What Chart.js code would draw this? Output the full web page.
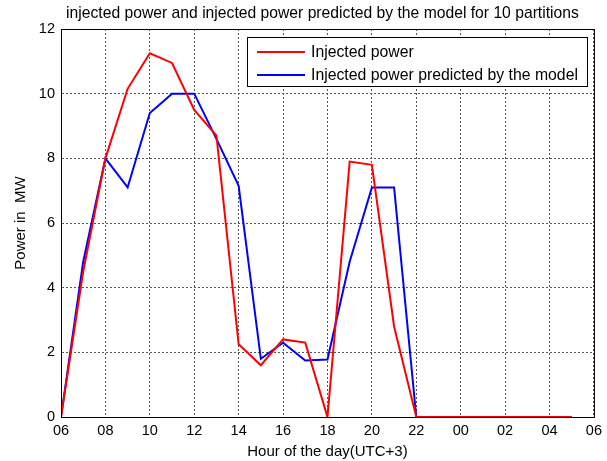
<!DOCTYPE html>
<html>
<head>
<meta charset="utf-8">
<script src="https://cdn.jsdelivr.net/npm/chart.js@4.4.1/dist/chart.umd.min.js"></script>
<style>
    html, body { margin: 0; padding: 0; background: #fff; }
    #wrap { width: 607px; height: 461px; }
</style>
</head>
<body>
<div id="wrap"><canvas id="chart" width="607" height="461"></canvas></div>
<script>
// hours of the day, 6 = 06:00, 24+ = next day
const hours = [6,7,8,9,10,11,12,13,14,15,16,17,18,19,20,21,22,23,24,25,26,27,28,29]
const injected = [0,4.5,8.0,10.15,11.25,10.95,9.5,8.7,2.25,1.6,2.4,2.3,0,7.9,7.8,2.8,0,0,0,0,0,0,0,0]
const predicted = [0,4.8,8.0,7.1,9.4,10.0,10.0,8.6,7.15,1.8,2.3,1.75,1.78,4.8,7.1,7.1,0,0,0,0,0,0,0,0]
const hourTicks = ['06','08','10','12','14','16','18','20','22','00','02','04','06']
const chartTitle = 'injected power and injected power predicted by the model for 10 partitions'

function toPoints(values) {
    return hours.map((h, i) => ({x: h, y: values[i]}))
}

const fontName = '"Liberation Sans", Arial, sans-serif'

// frame, title and legend (legend sits inside the plot area)
const framePlugin = {
    id: 'frame',
    afterDraw(chart) {
        const ctx = chart.ctx
        const a = chart.chartArea
        ctx.save()
        ctx.strokeStyle = '#000'
        ctx.lineWidth = 1
        ctx.strokeRect(a.left + 0.5, a.top + 0.5, a.right - a.left, a.bottom - a.top)

        // title centred on the plot
        ctx.fillStyle = '#000'
        ctx.font = '15.7px ' + fontName
        ctx.textAlign = 'center'
        ctx.textBaseline = 'middle'
        ctx.fillText(chartTitle, (a.left + a.right) / 2 - 5, 14)

        // legend box
        const boxLeft = a.left + 186, boxTop = a.top + 8
        const boxW = 340, boxH = 49
        ctx.fillStyle = '#fff'
        ctx.fillRect(boxLeft, boxTop, boxW, boxH)
        ctx.strokeRect(boxLeft + 0.5, boxTop + 0.5, boxW, boxH)
        ctx.font = '15.8px ' + fontName
        ctx.textAlign = 'left'
        chart.data.datasets.forEach((ds, i) => {
            const y = boxTop + 15 + i * 23
            ctx.strokeStyle = ds.borderColor
            ctx.lineWidth = 2
            ctx.beginPath()
            ctx.moveTo(boxLeft + 10, y)
            ctx.lineTo(boxLeft + 58, y)
            ctx.stroke()
            ctx.fillStyle = '#000'
            ctx.fillText(ds.label, boxLeft + 64, y + 1)
        })
        ctx.restore()
    }
}

const config = {
    type: 'line',
    data: {
        datasets: [{
            label: 'Injected power',
            data: toPoints(injected),
            borderColor: 'rgb(255, 0, 0)',
            backgroundColor: 'rgb(255, 0, 0)',
            borderWidth: 2,
            pointRadius: 0,
            tension: 0,
        },{
            label: 'Injected power predicted by the model',
            data: toPoints(predicted),
            borderColor: 'rgb(0, 0, 255)',
            backgroundColor: 'rgb(0, 0, 255)',
            borderWidth: 2,
            pointRadius: 0,
            tension: 0,
        }]
    },
    options: {
        responsive: false,
        animation: false,
        layout: { padding: { left: 0, right: 12, top: 29, bottom: 0 } },
        scales: {
            'x': {
                type: 'linear',
                min: 6,
                max: 30,
                afterFit: function(scale) { scale.height = 44 },
                ticks: {
                    stepSize: 2,
                    color: '#000',
                    font: { family: fontName, size: 14.5 },
                    padding: 5,
                    maxRotation: 0,
                    callback: function(value) {
                        return hourTicks[(value - 6) / 2]
                    }
                },
                grid: {
                    color: '#555',
                    tickLength: 0,
                },
                border: { color: '#000', dash: [2, 2] },
                title: {
                    display: true,
                    text: 'Hour of the day(UTC+3)',
                    color: '#000',
                    font: { family: fontName, size: 15 },
                    padding: { top: 0, bottom: 0 }
                }
            },
            'y': {
                min: 0,
                max: 12,
                afterFit: function(scale) { scale.width = 61 },
                ticks: {
                    stepSize: 2,
                    color: '#000',
                    font: { family: fontName, size: 14.5 },
                    padding: 6,
                },
                grid: {
                    color: '#555',
                    tickLength: 0,
                },
                border: { color: '#000', dash: [2, 2] },
                title: {
                    display: true,
                    text: 'Power in  MW',
                    color: '#000',
                    font: { family: fontName, size: 15 },
                    padding: { top: 12, bottom: 0 }
                }
            }
        },
        plugins: {
            legend: { display: false },
            tooltip: { enabled: false },
            title: { display: false }
        }
    },
    plugins: [framePlugin]
}

const chart = new Chart(document.getElementById('chart'), config)
</script>
</body>
</html>
